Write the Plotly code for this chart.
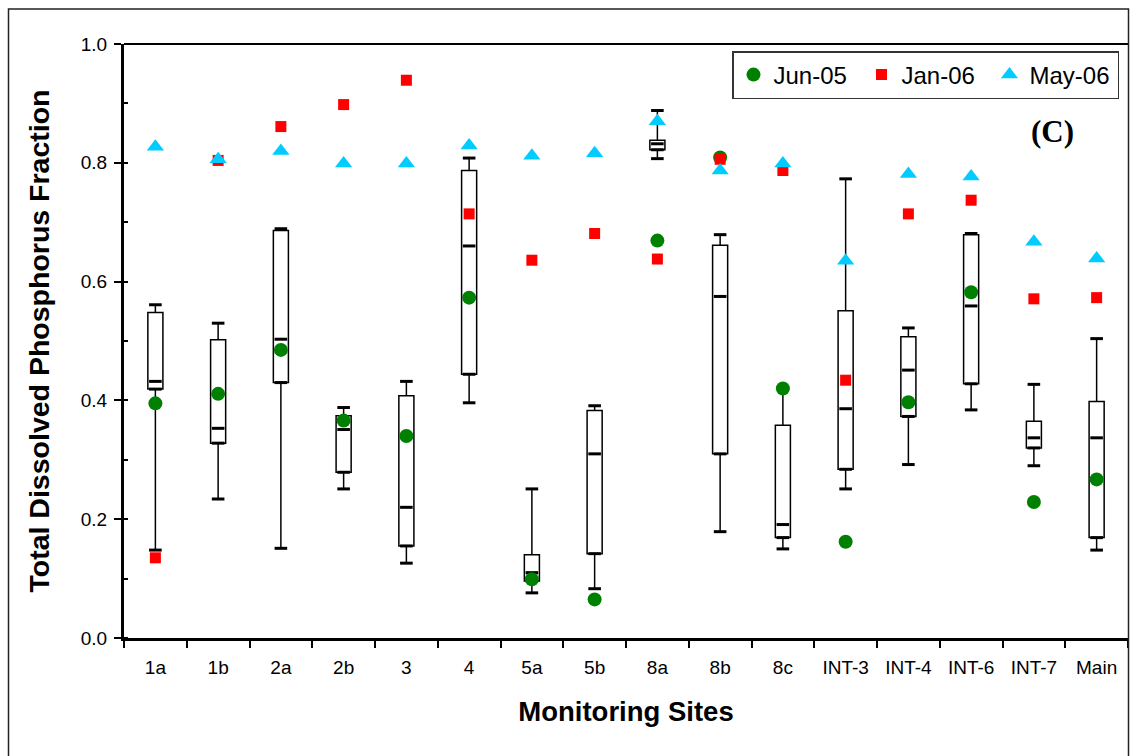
import plotly.graph_objects as go

# ---------------- data ----------------
sites = ["1a", "1b", "2a", "2b", "3", "4", "5a", "5b", "8a", "8b", "8c",
         "INT-3", "INT-4", "INT-6", "INT-7", "Main"]

whisker_max = [0.561, 0.530, 0.689, 0.388, 0.432, 0.808, 0.251, 0.391, 0.888, 0.679, 0.420,
               0.773, 0.522, 0.681, 0.427, 0.504]
q3 = [0.548, 0.502, 0.686, 0.374, 0.408, 0.787, 0.140, 0.383, 0.838, 0.661, 0.358,
      0.551, 0.507, 0.679, 0.365, 0.398]
median = [0.432, 0.353, 0.503, 0.351, 0.220, 0.660, 0.110, 0.310, 0.832, 0.575, 0.191,
          0.386, 0.451, 0.559, 0.337, 0.337]
q1 = [0.419, 0.328, 0.430, 0.279, 0.155, 0.444, 0.096, 0.142, 0.822, 0.310, 0.169,
      0.284, 0.373, 0.428, 0.320, 0.169]
whisker_min = [0.148, 0.234, 0.151, 0.251, 0.126, 0.396, 0.076, 0.083, 0.807, 0.179, 0.150,
               0.251, 0.292, 0.384, 0.290, 0.148]

jun05 = [0.395, 0.411, 0.485, 0.366, 0.340, 0.573, 0.099, 0.065, 0.669, 0.809, 0.420,
         0.162, 0.397, 0.582, 0.229, 0.267]
jan06 = [0.135, 0.804, 0.861, 0.898, 0.939, 0.714, 0.636, 0.681, 0.638, 0.806, 0.787,
         0.434, 0.714, 0.737, 0.571, 0.573]
may06 = [0.827, 0.806, 0.820, 0.799, 0.799, 0.829, 0.812, 0.816, 0.870, 0.787, 0.799,
         0.635, 0.781, 0.777, 0.667, 0.639]

y_ticks = [0.0, 0.2, 0.4, 0.6, 0.8, 1.0]

FONT = "Arial, 'Liberation Sans', sans-serif"

fig = go.Figure()

# boxes (Q1..Q3) as floating bars
fig.add_trace(go.Bar(
    x=sites, y=[b - a for a, b in zip(q1, q3)], base=q1, width=0.24,
    marker=dict(color="white", line=dict(color="black", width=1.5)),
    showlegend=False, hoverinfo="skip"))

# whiskers
fig.add_trace(go.Scatter(
    x=sites, y=q3, mode="markers", marker=dict(size=0.1, color="rgba(0,0,0,0)"),
    error_y=dict(type="data", symmetric=False,
                 array=[u - t for u, t in zip(whisker_max, q3)],
                 arrayminus=[0] * len(sites), width=0, thickness=1.5, color="black"),
    showlegend=False, hoverinfo="skip"))
fig.add_trace(go.Scatter(
    x=sites, y=q1, mode="markers", marker=dict(size=0.1, color="rgba(0,0,0,0)"),
    error_y=dict(type="data", symmetric=False,
                 array=[0] * len(sites),
                 arrayminus=[b - l for b, l in zip(q1, whisker_min)],
                 width=0, thickness=1.5, color="black"),
    showlegend=False, hoverinfo="skip"))

# caps, median and Q1 dashes
for vals in (whisker_max, whisker_min, median, q1):
    fig.add_trace(go.Scatter(
        x=sites, y=vals, mode="markers",
        marker=dict(symbol="line-ew", size=9, color="black",
                    line=dict(color="black", width=3)),
        showlegend=False, hoverinfo="skip"))

# sampling campaigns
fig.add_trace(go.Scatter(x=sites, y=jun05, mode="markers", name="Jun-05",
                         marker=dict(symbol="circle", size=14, color="#008000")))
fig.add_trace(go.Scatter(x=sites, y=jan06, mode="markers", name="Jan-06",
                         marker=dict(symbol="square", size=11, color="#FF0000")))
fig.add_trace(go.Scatter(x=sites, y=may06, mode="markers", name="May-06",
                         marker=dict(symbol="triangle-up", size=15, color="#00CCFF")))

L, R, T, B = 124, 5, 44, 118
W, H = 1133, 756
pw = W - L - R
ph = H - T - B

def px(x):
    return (x - L) / pw

def py(y):
    return (H - B - y) / ph

fig.update_layout(
    width=W, height=H,
    margin=dict(l=L, r=R, t=T, b=B),
    paper_bgcolor="white", plot_bgcolor="white",
    font=dict(family=FONT, color="black", size=19),
    showlegend=True,
    legend=dict(orientation="h", x=px(1119), xanchor="right", y=py(51), yanchor="top",
                font=dict(size=24, family=FONT), bgcolor="white",
                bordercolor="#333333", borderwidth=1.5,
                itemsizing="trace", entrywidth=83),
    xaxis=dict(type="category", range=[-0.5, len(sites) - 0.5],
               showline=True, linecolor="black", linewidth=2.5,
               ticks="outside", tickson="boundaries", ticklen=7, tickwidth=1.5,
               tickcolor="black", showgrid=False, zeroline=False,
               tickfont=dict(size=19), ticklabelstandoff=10,
               title=dict(text="<b>Monitoring Sites</b>", font=dict(size=27.5), standoff=26)),
    yaxis=dict(range=[0, 1], tickvals=y_ticks, tickformat=".1f",
               showline=True, linecolor="black", linewidth=3,
               ticks="outside", ticklen=7, tickwidth=1.5, tickcolor="black",
               minor=dict(ticks="inside", dtick=0.1, ticklen=4, tickwidth=1.5,
                          tickcolor="black", showgrid=False),
               showgrid=False, zeroline=False, tickfont=dict(size=19),
               ticklabelstandoff=3,
               title=dict(text="<b>Total Dissolved Phosphorus Fraction</b>",
                          font=dict(size=28.5), standoff=23)),
    shapes=[
        dict(type="line", xref="paper", yref="paper", x0=0, x1=1, y0=1, y1=1,
             line=dict(color="black", width=2)),
        dict(type="rect", xref="paper", yref="paper",
             x0=px(8.5), x1=px(1128.5), y0=py(775), y1=py(9),
             line=dict(color="#222222", width=1.5), fillcolor="rgba(0,0,0,0)"),
    ],
    annotations=[
        dict(text="<b>(C)</b>", x=px(1052), y=py(131), xref="paper", yref="paper",
             xanchor="center", yanchor="middle", showarrow=False,
             font=dict(family="'Times New Roman', 'Liberation Serif', serif",
                       size=31, color="black")),
    ],
)

fig.write_html("out.html", config={"displayModeBar": False},
               post_script="document.body.style.margin='0';document.body.style.padding='0';")
